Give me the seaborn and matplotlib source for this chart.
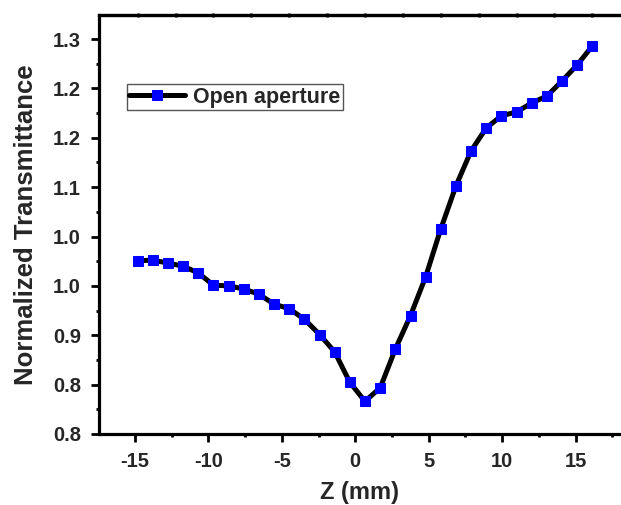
import matplotlib
matplotlib.use("Agg")
import matplotlib.pyplot as plt
from matplotlib.ticker import FixedLocator, AutoMinorLocator
import seaborn as sns
import pandas as pd

# Z-scan, open aperture measurement
z_mm = [-14.82, -13.78, -12.75, -11.72, -10.69, -9.66, -8.62, -7.59, -6.56, -5.53,
        -4.50, -3.46, -2.43, -1.40, -0.37, 0.66, 1.70, 2.73, 3.76, 4.79,
        5.82, 6.86, 7.89, 8.92, 9.95, 10.98, 12.02, 13.05, 14.08, 15.11, 16.14]
transmittance = [1.008, 1.009, 1.005, 1.001, 0.992, 0.976, 0.975, 0.971, 0.964, 0.951,
                 0.945, 0.931, 0.911, 0.888, 0.848, 0.823, 0.841, 0.892, 0.936, 0.987,
                 1.050, 1.107, 1.153, 1.183, 1.199, 1.204, 1.216, 1.225, 1.245, 1.266,
                 1.291]
series_name = "Open aperture"

x_ticks = [-15, -10, -5, 0, 5, 10, 15]
y_ticks = [0.78, 0.845, 0.91, 0.975, 1.04, 1.105, 1.17, 1.235, 1.30]
y_tick_labels = ["0.8", "0.8", "0.9", "1.0", "1.0", "1.1", "1.2", "1.2", "1.3"]

df = pd.DataFrame({"Z (mm)": z_mm, "T": transmittance, "series": series_name})

sns.set_style("ticks")
plt.rcParams["font.family"] = ["Liberation Sans", "DejaVu Sans"]
plt.rcParams["font.weight"] = "bold"
plt.rcParams["axes.unicode_minus"] = False

fig = plt.figure(figsize=(6.21, 5.05), dpi=100)
ax = fig.add_axes([0.1594, 0.1406, 0.8406, 0.8297])

sns.lineplot(data=df, x="Z (mm)", y="T", hue="series", palette=["black"],
             marker="s", markersize=7.5, markerfacecolor="#0000ff",
             markeredgecolor="#0000ff", linewidth=3.6, ax=ax)

ax.set_xlim(-17.45, 18.09)
ax.set_ylim(0.78, 1.3317)

ax.xaxis.set_major_locator(FixedLocator(x_ticks))
ax.xaxis.set_minor_locator(AutoMinorLocator(2))
ax.set_yticks(y_ticks)
ax.set_yticklabels(y_tick_labels)
ax.yaxis.set_minor_locator(AutoMinorLocator(2))

for side in ["left", "bottom", "top"]:
    ax.spines[side].set_linewidth(2.3)
    ax.spines[side].set_color("black")
ax.spines["right"].set_visible(False)

ax.tick_params(axis="both", which="major", direction="out", length=6,
               width=2, labelsize=14.5, color="black", pad=7)
ax.tick_params(axis="both", which="minor", direction="out", length=2.2,
               width=2, color="black")
for lbl in ax.get_xticklabels() + ax.get_yticklabels():
    lbl.set_fontweight("bold")

# small marks on the top frame
top = ax.secondary_xaxis("top")
top.set_xticks([-14.82 + 2.58 * k for k in range(13)])
top.set_xticklabels([])
top.tick_params(direction="inout", length=3, width=2, color="black")
top.spines["top"].set_linewidth(2.3)

ax.set_xlabel("Z (mm)", fontsize=17, fontweight="bold", labelpad=7.5)
ax.set_ylabel("Normalized Transmittance", fontsize=18.5, fontweight="bold", labelpad=10.5)

leg = ax.legend(loc="upper left", bbox_to_anchor=(0.053, 0.835), frameon=True,
                fancybox=False, edgecolor="#555555", framealpha=1,
                prop={"size": 15.5, "weight": "bold"}, handlelength=2.6,
                handletextpad=0.35, borderpad=0.12, borderaxespad=0)
leg.get_frame().set_linewidth(1.0)

fig.savefig("out.png", dpi=100)
